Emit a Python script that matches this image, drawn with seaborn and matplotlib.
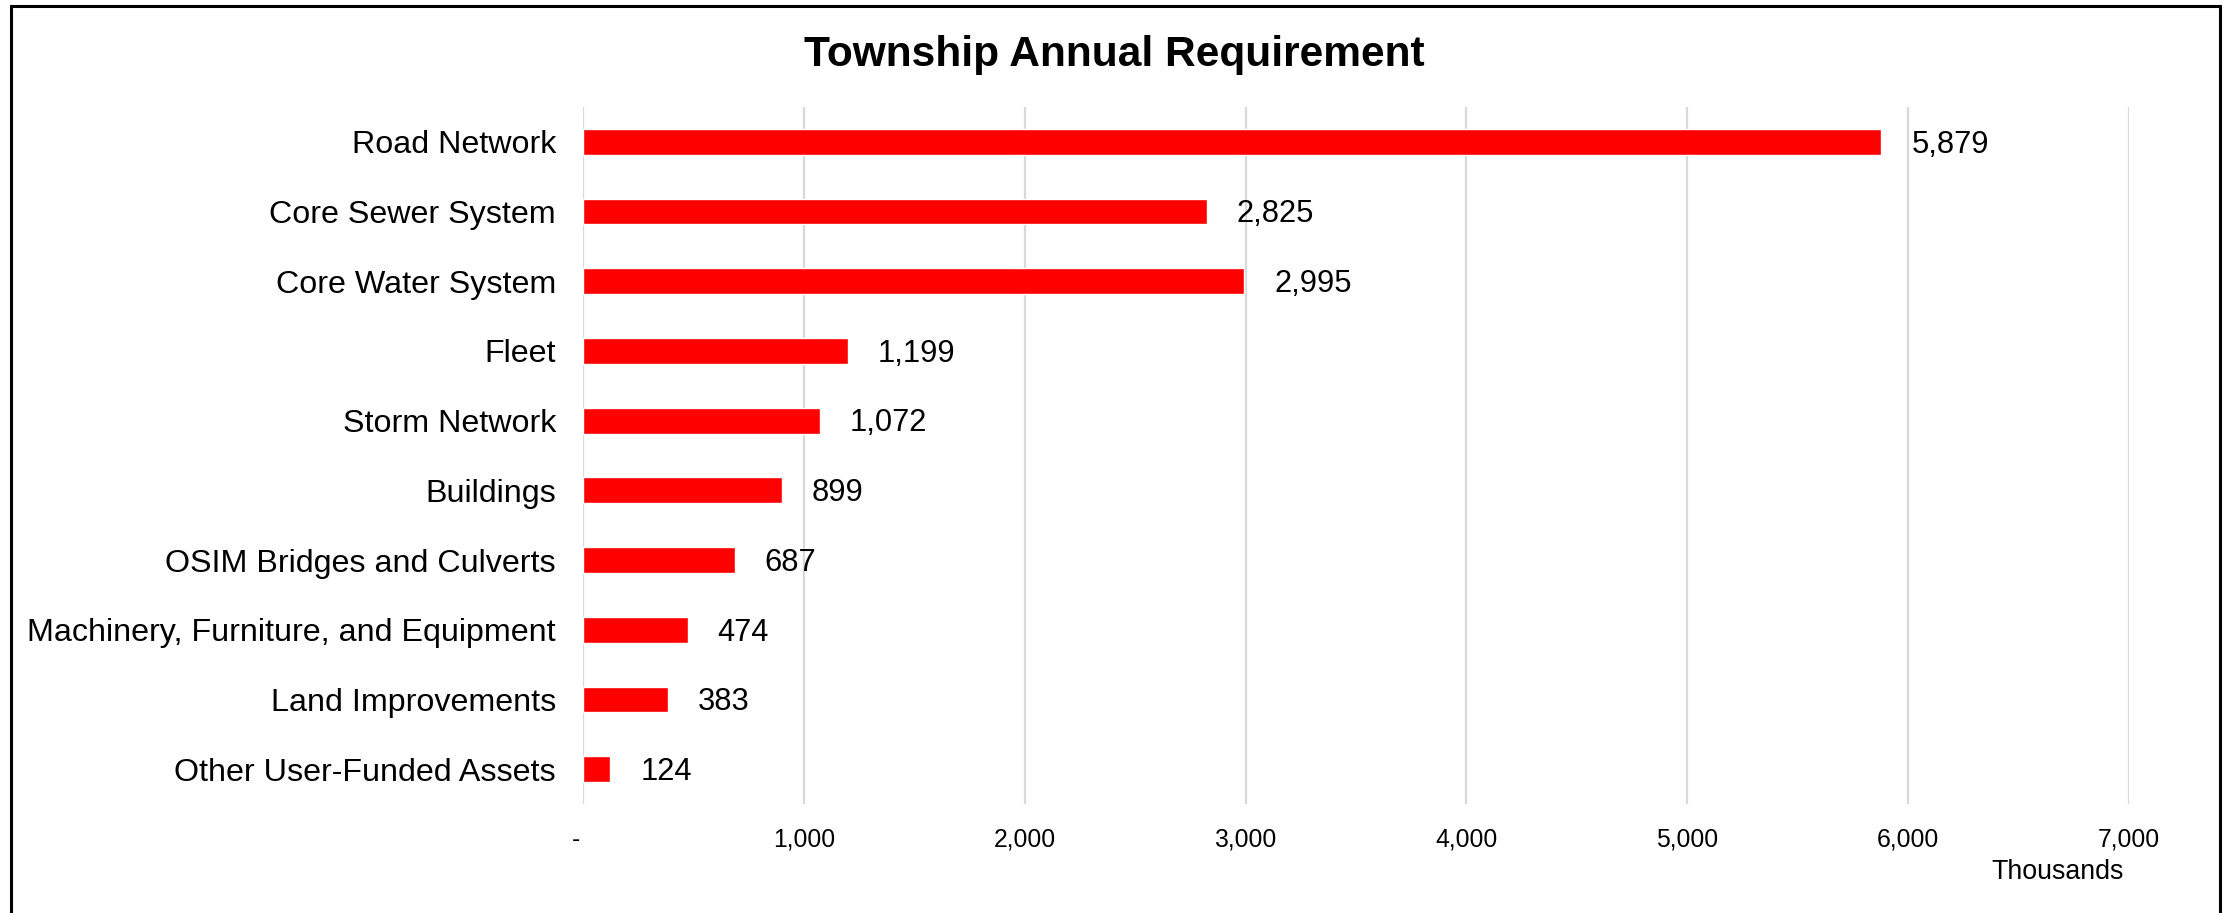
import matplotlib
matplotlib.use("Agg")
import matplotlib.pyplot as plt
import seaborn as sns
import pandas as pd
from matplotlib.patches import Rectangle
from matplotlib.ticker import FuncFormatter, MultipleLocator

categories = [
    "Road Network",
    "Core Sewer System",
    "Core Water System",
    "Fleet",
    "Storm Network",
    "Buildings",
    "OSIM Bridges and Culverts",
    "Machinery, Furniture, and Equipment",
    "Land Improvements",
    "Other User-Funded Assets",
]
values = [5879, 2825, 2995, 1199, 1072, 899, 687, 474, 383, 124]
title = "Township Annual Requirement"
unit_label = "Thousands"

sns.set_style("white")
plt.rcParams["font.family"] = ["Liberation Sans", "DejaVu Sans"]
plt.rcParams["text.color"] = "black"
plt.rcParams["xtick.color"] = "black"
plt.rcParams["ytick.color"] = "black"

df = pd.DataFrame({"category": categories, "value": values})

W, H = 2231, 913
fig = plt.figure(figsize=(W / 100, H / 100), dpi=100)
ax = fig.add_axes([583 / W, 1 - 804 / H, (2129 - 583) / W, (804 - 107) / H])

sns.barplot(data=df, y="category", x="value", orient="h", color="#FF0000",
            width=0.37, saturation=1, ax=ax, zorder=3)

ax.set_xlim(0, 7000)
ax.set_ylim(len(categories) - 0.5, -0.5)
ax.xaxis.set_major_locator(MultipleLocator(1000))
ax.xaxis.set_major_formatter(FuncFormatter(lambda v, p: "-  " if v == 0 else f"{v:,.0f}"))
ax.grid(axis="x", color="#d9d9d9", linewidth=1.6, zorder=0)
ax.grid(axis="y", visible=False)
for s in ax.spines.values():
    s.set_visible(False)
ax.tick_params(axis="both", length=0)
ax.tick_params(axis="x", labelsize=17.8, pad=17, labelcolor="black")
ax.tick_params(axis="y", labelsize=23.2, pad=19.5, labelcolor="black")
ax.set_xlabel("")
ax.set_ylabel("")

for i, v in enumerate(values):
    ax.annotate(f"{v:,.0f}", xy=(v, i), xytext=(21.5, -2), textcoords="offset points",
                ha="left", va="center", fontsize=22.2, color="black")

fig.text(1114 / W, 1 - 55 / H, title, ha="center", va="center",
         fontsize=30.6, fontweight="bold", color="black")
fig.text(2124 / W, 1 - 872 / H, unit_label, ha="right", va="center",
         fontsize=19.3, color="black")

fig.patches.append(Rectangle((11 / W, -0.05), (2220 - 11) / W, 1 - 6 / H + 0.05,
                             transform=fig.transFigure, fill=False,
                             edgecolor="black", linewidth=2.2))

fig.savefig("out.png", dpi=100)
